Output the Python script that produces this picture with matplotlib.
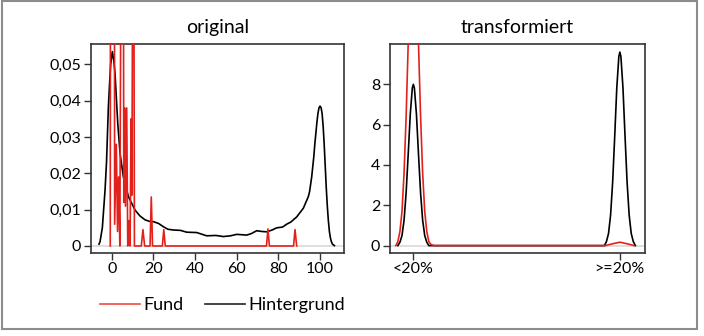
import matplotlib
matplotlib.use('Agg')
from matplotlib import pyplot as plt
from matplotlib.patches import Rectangle

plt.rcParams['font.family'] = ['Lato', 'DejaVu Sans']

# original scale: density of the background (Hintergrund)
hinter_x = [-6.1, -5.6, -4.5, -3.2, -2.5, -1.6, -1, -0.5, 0.3, 1, 1.6, 2.2,
            2.9, 4.0, 5.6, 8, 11.2, 13.5, 16, 18, 20, 22.5, 24.8, 27, 29.6, 33,
            36, 40.8, 45.6, 50, 53.6, 57, 60, 64.8, 67, 69.6, 72, 74.4, 77,
            79.2, 82, 84, 86, 88.8, 92, 94.4, 95, 96, 97, 97.5, 98, 98.5, 99,
            99.5, 100, 100.5, 101, 101.5, 102, 102.5, 103, 103.5, 104, 104.5,
            105, 105.5, 106, 106.9]
hinter_y = [0.0005, 0.0012, 0.005, 0.0154, 0.023, 0.0383, 0.045, 0.050, 0.0535,
            0.051, 0.0475, 0.041, 0.0338, 0.0255, 0.019, 0.0136, 0.0099,
            0.0083, 0.0072, 0.0068, 0.0067, 0.0062, 0.0053, 0.0046, 0.0044,
            0.0043, 0.0038, 0.0037, 0.0028, 0.0029, 0.0026, 0.0028, 0.0032,
            0.0030, 0.0034, 0.0042, 0.0040, 0.0039, 0.0044, 0.0050, 0.0052,
            0.0060, 0.0066, 0.0080, 0.0104, 0.0136, 0.015, 0.019, 0.0245,
            0.028, 0.031, 0.034, 0.0365, 0.038, 0.0385, 0.0381, 0.0365, 0.033,
            0.028, 0.022, 0.016, 0.011, 0.007, 0.004, 0.0022, 0.0011, 0.0005,
            0.0001]

# original scale: finds (Fund), spiky density
fund_x = [-0.7, -0.6, 0.4, 1.3, 1.4, 2.2, 2.8, 3.3, 3.9, 4.5, 5.0, 5.6, 5.8,
          6.2, 6.6, 7.2, 7.7, 8.2, 8.8, 9.3, 9.7, 10.1, 10.6, 10.9, 14.2, 15.0,
          15.8, 18.4, 19.0, 19.6, 24.3, 25.0, 25.7, 74.3, 75.0, 75.7, 87.3, 88.0,
          88.8]
fund_y = [0, 0.09, 0.09, 0.09, 0.006, 0.028, 0.004, 0.019, 0, 0.09, 0.09, 0.09,
          0.012, 0.038, 0.011, 0.038, 0, 0.007, 0, 0.035, 0.014, 0.09, 0.09, 0,
          0, 0.0045, 0, 0, 0.0135, 0, 0, 0.0045, 0, 0, 0.0047, 0, 0, 0.0045, 0]

# transformed scale (0 = <20%, 1 = >=20%)
trans_hinter_x = [-0.075, -0.065, -0.055, -0.045, -0.035, -0.025, -0.015,
                  -0.005, 0.0, 0.005, 0.015, 0.025, 0.035, 0.045, 0.055, 0.065,
                  0.075, 0.925, 0.935, 0.945, 0.955, 0.965, 0.975, 0.985,
                  0.995, 1.0, 1.005, 1.015, 1.025, 1.035, 1.045, 1.055, 1.065,
                  1.075]
trans_hinter_y = [0.0, 0.17, 0.5, 1.26, 2.62, 4.52, 6.51, 7.82, 8.0, 7.82,
                  6.51, 4.52, 2.62, 1.26, 0.5, 0.17, 0.0, 0.0, 0.2, 0.6, 1.51,
                  3.14, 5.42, 7.82, 9.38, 9.6, 9.38, 7.82, 5.42, 3.14, 1.51,
                  0.6, 0.2, 0.0]
trans_fund_x = [-0.085, -0.075, -0.065, -0.055, -0.045, -0.035, -0.025, -0.015,
                -0.005, 0.005, 0.015, 0.025, 0.035, 0.045, 0.055, 0.065, 0.075,
                0.085, 0.1, 0.93, 0.96, 1.0, 1.04, 1.07]
trans_fund_y = [0.0, 0.2, 0.7, 1.7, 3.6, 6.4, 10.0, 13.4, 15.7, 15.7, 13.4,
                10.0, 6.4, 3.6, 1.7, 0.7, 0.2, 0.06, 0.0, 0.0, 0.08, 0.17, 0.08,
                0.0]
trans_labels = ['<20%', '>=20%']

red = '#e3211c'
fig = plt.figure(figsize=(7.04, 3.36), dpi=100)
ax1 = fig.add_axes([0.1288, 0.248, 0.3598, 0.621])
ax2 = fig.add_axes([0.554, 0.248, 0.362, 0.621])

for ax in (ax1, ax2):
    ax.axhline(0, color='#d9d9d9', lw=1.2, zorder=1)
    for s in ax.spines.values():
        s.set_color('#333333')
        s.set_linewidth(1.2)
    ax.tick_params(direction='out', length=5, width=1, color='#333333',
                   labelsize=11.5, pad=2)

ax1.plot(hinter_x, hinter_y, color='black', lw=1.2, zorder=2)
ax1.plot(fund_x, fund_y, color=red, lw=1.2, zorder=3)
ax1.set_xlim(-10.1, 111.5)
ax1.set_ylim(-0.00184, 0.0556)
ax1.set_xticks([0, 20, 40, 60, 80, 100])
ax1.set_yticks([0, 0.01, 0.02, 0.03, 0.04, 0.05])
ax1.set_yticklabels(['0', '0,01', '0,02', '0,03', '0,04', '0,05'])
ax1.set_title('original', fontsize=14, pad=8)

ax2.plot(trans_hinter_x, trans_hinter_y, color='black', lw=1.2, zorder=2)
ax2.plot(trans_fund_x, trans_fund_y, color=red, lw=1.2, zorder=3)
ax2.set_xlim(-0.113, 1.121)
ax2.set_ylim(-0.35, 10.0)
ax2.set_xticks([0, 1])
ax2.set_xticklabels(trans_labels)
ax2.set_yticks([0, 2, 4, 6, 8])
ax2.set_title('transformiert', fontsize=14, pad=8)

h_fund, = ax1.plot([], [], color='#ef4a3c', lw=1.2)
h_hint, = ax1.plot([], [], color='#222222', lw=1.2)
fig.legend([h_fund, h_hint], ['Fund', 'Hintergrund'], loc='center',
           bbox_to_anchor=(0.316, 0.092), ncol=2, frameon=False, fontsize=13,
           handlelength=2.2, handletextpad=0.2, columnspacing=1.2)

fig.add_artist(Rectangle((1.5 / 704, 7 / 336), 695 / 704, 328 / 336,
                         transform=fig.transFigure, fill=False,
                         edgecolor='#8c8c8c', lw=1.5))

fig.savefig('out.png', dpi=100)
